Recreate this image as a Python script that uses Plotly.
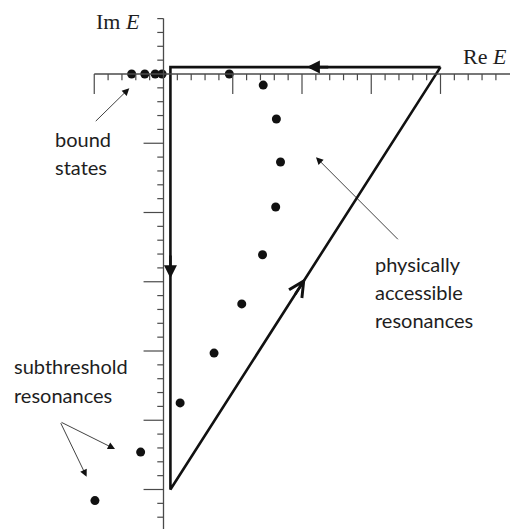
import plotly.graph_objects as go

# Pole positions in the complex energy plane (units of one axis tick)
bound_re = [-2.3, -1.35, -0.6, -0.1]
bound_im = [0.0, 0.0, 0.0, 0.0]

resonance_re = [4.75, 7.2, 8.15, 8.45, 8.1, 7.15, 5.65, 3.65, 1.2]
resonance_im = [0.0, -0.8, -3.25, -6.35, -9.6, -13.05, -16.6, -20.15, -23.75]

subthreshold_re = [-1.65, -4.95]
subthreshold_im = [-27.3, -30.8]

# Integration contour (closed triangle)
contour_re = [20.0, 0.5, 0.5, 20.0]
contour_im = [0.5, 0.5, -30.0, 0.5]

# Axis extents and tick positions
re_ticks = list(range(-5, 25))
im_ticks = list(range(-32, 5))
re_axis_span = (-5.0, 25.5)
im_axis_span = (-33.5, 4.0)

AXIS = "#4a4a4a"
INK = "#111111"
MINOR_LEN = 0.45
MAJOR_LEN = 1.44

fig = go.Figure()

shapes = []
# axes
shapes.append(dict(type="line", x0=re_axis_span[0], x1=re_axis_span[1], y0=0, y1=0,
                   line=dict(color=AXIS, width=1.3)))
shapes.append(dict(type="line", x0=0, x1=0, y0=im_axis_span[0], y1=im_axis_span[1],
                   line=dict(color=AXIS, width=1.3)))
# ticks on the real axis (pointing down)
for t in re_ticks:
    if t == 0:
        continue
    ln = MAJOR_LEN if t % 5 == 0 else MINOR_LEN
    shapes.append(dict(type="line", x0=t, x1=t, y0=0, y1=-ln,
                       line=dict(color=AXIS, width=1.2)))
# ticks on the imaginary axis (pointing left)
for t in im_ticks:
    if t == 0:
        continue
    ln = MAJOR_LEN if t % 5 == 0 else MINOR_LEN
    shapes.append(dict(type="line", x0=0, x1=-ln, y0=t, y1=t,
                       line=dict(color=AXIS, width=1.2)))

fig.add_trace(go.Scatter(x=contour_re, y=contour_im, mode="lines",
                         line=dict(color=INK, width=2.6), hoverinfo="skip"))

all_re = bound_re + resonance_re + subthreshold_re
all_im = bound_im + resonance_im + subthreshold_im
fig.add_trace(go.Scatter(x=all_re, y=all_im, mode="markers",
                         marker=dict(color=INK, size=9), hoverinfo="skip"))

annotations = []


def arrow(x, y, ax, ay, head, size, width):
    annotations.append(dict(x=x, y=y, ax=ax, ay=ay, xref="x", yref="y",
                            axref="x", ayref="y", text="", showarrow=True,
                            arrowhead=head, arrowsize=size, arrowwidth=width,
                            arrowcolor=INK, standoff=0, startstandoff=0))


# direction markers along the contour
arrow(10.35, 0.5, 12.0, 0.5, 2, 1.0, 2.6)
arrow(0.5, -14.75, 0.5, -13.0, 2, 1.0, 2.6)
dx, dy = 19.5, 30.5
norm = (dx * dx + dy * dy) ** 0.5
tip = (0.5 + 0.5 * dx, -30.0 + 0.5 * dy)
arrow(tip[0], tip[1], tip[0] - 1.5 * dx / norm, tip[1] - 1.5 * dy / norm, 5, 1.15, 2.6)

# pointers from the labels
arrow(-2.47, -1.03, -5.0, -3.51, 2, 1.8, 0.8)
arrow(11.01, -6.01, 17.03, -12.04, 2, 1.8, 0.8)
arrow(-3.5, -27.08, -7.47, -25.1, 2, 1.8, 0.8)
arrow(-5.55, -29.08, -7.47, -25.1, 2, 1.8, 0.8)


def label(x, y, text, anchor="left", family="Lato", size=20):
    annotations.append(dict(x=x, y=y, xref="x", yref="y", text=text,
                            showarrow=False, xanchor=anchor, yanchor="middle",
                            font=dict(family=family, size=size, color="#1e1e1e")))


SERIF = "Liberation Serif"
label(-1.55, 3.79, "Im <i>E</i>", anchor="right", family=SERIF, size=22)
label(21.5, 1.26, "Re <i>E</i>", anchor="left", family=SERIF, size=22)

label(-7.98, -4.7, "bound")
label(-7.98, -6.75, "states")

label(15.1, -13.75, "physically")
label(15.1, -15.75, "accessible")
label(15.1, -17.75, "resonances")

label(-10.96, -21.1, "subthreshold")
label(-10.96, -23.15, "resonances")

fig.update_layout(
    width=510, height=529,
    margin=dict(l=0, r=0, t=0, b=0),
    paper_bgcolor="white", plot_bgcolor="white",
    showlegend=False,
    shapes=shapes,
    annotations=annotations,
    xaxis=dict(range=[-11.805, 25.018], visible=False, fixedrange=True),
    yaxis=dict(range=[-32.852, 5.343], visible=False, fixedrange=True),
)

fig.write_html("out.html")
